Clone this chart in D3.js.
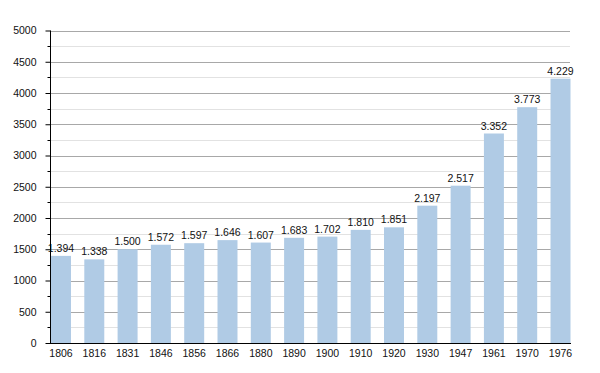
<!DOCTYPE html>
<html>
<head>
<meta charset="utf-8">
<script src="https://cdn.jsdelivr.net/npm/d3@7"></script>
<style>
  body { margin: 0; background: #fff; }
  text { font-family: "Liberation Sans", Arial, sans-serif; }
</style>
</head>
<body>
<div id="chart"></div>
<script>
// Population by census year
const years = ['1806', '1816', '1831', '1846', '1856', '1866', '1880', '1890',
               '1900', '1910', '1920', '1930', '1947', '1961', '1970', '1976'];
const population = [1394, 1338, 1500, 1572, 1597, 1646, 1607, 1683,
                    1702, 1810, 1851, 2197, 2517, 3352, 3773, 4229];
const majorTicks = [0, 500, 1000, 1500, 2000, 2500, 3000, 3500, 4000, 4500, 5000];
const minorTicks = [250, 750, 1250, 1750, 2250, 2750, 3250, 3750, 4250, 4750];

const width = 600, height = 373;
const plot = { left: 50, right: 570, top: 30.5, bottom: 343 };
const fontSize = '10.5px';

const svg = d3.select('#chart').append('svg')
    .attr('width', width)
    .attr('height', height);

const y = d3.scaleLinear().domain([0, 5000]).range([plot.bottom, plot.top]);

// first bar starts just right of the axis, last bar ends at the grid edge
const x = d3.scaleBand()
    .domain(years)
    .range([plot.left + 1, plot.right + 0.5])
    .paddingInner(0.4)
    .paddingOuter(0);

// minor grid
svg.append('g')
    .selectAll('line')
    .data(minorTicks)
    .enter().append('line')
    .attr('x1', plot.left).attr('x2', plot.right)
    .attr('y1', d => Math.round(y(d)) + 0.5)
    .attr('y2', d => Math.round(y(d)) + 0.5)
    .attr('stroke', '#e2e2e2');

// major grid
svg.append('g')
    .selectAll('line')
    .data(majorTicks.slice(1))
    .enter().append('line')
    .attr('x1', plot.left).attr('x2', plot.right)
    .attr('y1', d => Math.round(y(d)) + 0.5)
    .attr('y2', d => Math.round(y(d)) + 0.5)
    .attr('stroke', '#a8a8a8');

// bars
svg.append('g')
    .selectAll('rect')
    .data(population)
    .enter().append('rect')
    .attr('x', (d, i) => x(years[i]))
    .attr('y', d => y(d))
    .attr('width', x.bandwidth())
    .attr('height', d => y(0) - y(d))
    .attr('fill', '#b0cbe5');

// value labels (dot as thousands separator)
const fmt = d3.formatLocale({ decimal: ',', thousands: '.', grouping: [3], currency: ['', ''] }).format(',');
svg.append('g')
    .selectAll('text')
    .data(population)
    .enter().append('text')
    .attr('x', (d, i) => x(years[i]) + x.bandwidth() / 2)
    .attr('y', d => y(d) - 4)
    .attr('text-anchor', 'middle')
    .attr('font-size', fontSize)
    .attr('fill', '#111')
    .text(d => fmt(d));

// y axis
const yAxis = d3.axisLeft(y).tickValues(majorTicks).tickSize(5).tickPadding(9).tickFormat(d3.format('d'));
const gy = svg.append('g')
    .attr('transform', `translate(${plot.left + 0.5},0)`)
    .call(yAxis);
gy.select('.domain').attr('stroke', '#000').attr('d', `M0,${plot.top}V${plot.bottom}`);
gy.selectAll('.tick line').attr('stroke', '#000');
gy.selectAll('.tick text').attr('font-size', fontSize).attr('fill', '#111')
    .attr('font-family', '"Liberation Sans", Arial, sans-serif');

// minor ticks
gy.append('g')
    .selectAll('line')
    .data(minorTicks)
    .enter().append('line')
    .attr('x1', -3).attr('x2', 0)
    .attr('y1', d => Math.round(y(d)) + 0.5)
    .attr('y2', d => Math.round(y(d)) + 0.5)
    .attr('stroke', '#000');

// x axis
const xAxis = d3.axisBottom(x).tickSize(0).tickPadding(6);
const gx = svg.append('g')
    .attr('transform', `translate(0,${plot.bottom + 0.5})`)
    .call(xAxis);
gx.select('.domain').attr('stroke', '#000').attr('d', `M${plot.left},0H${plot.right + 1}`);
gx.selectAll('.tick text').attr('font-size', fontSize).attr('fill', '#111')
    .attr('font-family', '"Liberation Sans", Arial, sans-serif');
</script>
</body>
</html>
